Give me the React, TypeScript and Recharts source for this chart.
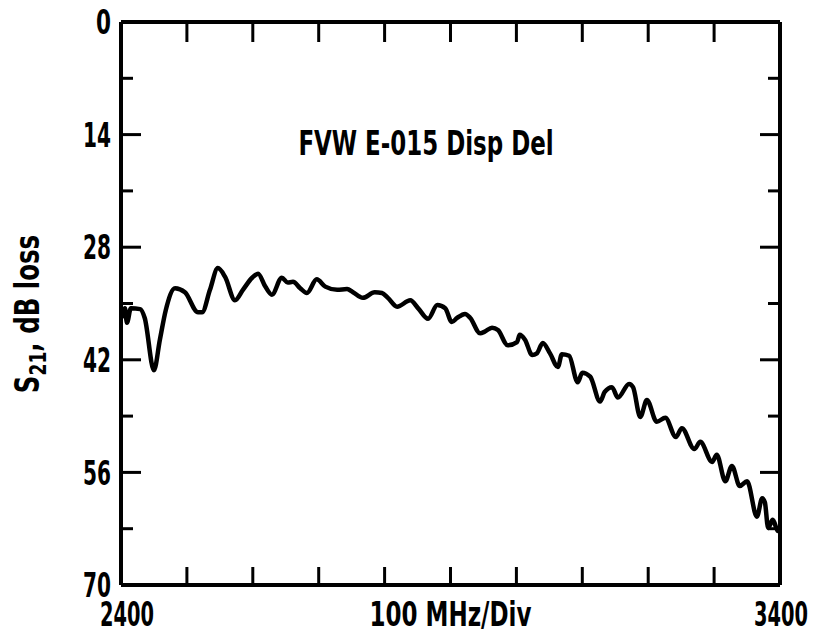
import React from 'react';
import { LineChart, Line, XAxis, YAxis } from 'recharts';

// frequency (MHz) and S21 loss (dB)
const freqs = [
  2401, 2406, 2409, 2415, 2429, 2436, 2450, 2459, 2468, 2482, 2497, 2517, 2523,
  2535, 2547, 2558, 2573, 2585, 2599, 2608, 2619, 2629, 2644, 2653, 2661, 2672,
  2682, 2697, 2710, 2728, 2743, 2752, 2767, 2785, 2796, 2805, 2819, 2839, 2851,
  2866, 2880, 2892, 2902, 2910, 2922, 2930, 2945, 2952, 2963, 2972, 2987, 3001,
  3005, 3013, 3024, 3031, 3040, 3051, 3063, 3069, 3080, 3093, 3100, 3112, 3127,
  3134, 3145, 3154, 3171, 3177, 3188, 3198, 3213, 3226, 3242, 3251, 3270, 3279,
  3297, 3304, 3317, 3327, 3339, 3350, 3365, 3373, 3377, 3382, 3389, 3397, 3400,
];
const loss = [
  36.8, 35.6, 37.4, 35.6, 35.7, 36.8, 43.3, 39.5, 35.8, 33.1, 33.6, 36.1, 36.1,
  33.3, 30.6, 31.7, 34.6, 33.3, 31.8, 31.3, 32.9, 33.9, 31.8, 32.4, 32.3, 33.1,
  33.7, 32.0, 32.9, 33.3, 33.2, 33.6, 34.3, 33.6, 33.7, 34.3, 35.4, 34.6, 35.6,
  36.9, 35.2, 35.6, 37.3, 36.8, 36.3, 36.8, 38.7, 38.5, 38.0, 38.3, 40.2, 39.8,
  38.9, 39.5, 41.4, 41.2, 39.9, 41.2, 42.9, 41.3, 41.5, 44.8, 43.6, 44.1, 47.2,
  46.0, 45.4, 46.7, 45.0, 45.4, 49.1, 47.0, 49.7, 49.2, 51.6, 50.5, 53.1, 52.2,
  54.7, 53.8, 57.1, 55.2, 57.7, 57.1, 61.5, 59.2, 59.7, 62.9, 61.9, 63.3, 63.0,
];

const yTicks = [0, 7, 14, 21, 28, 35, 42, 49, 56, 63, 70];
const xTicks = [2400, 2500, 2600, 2700, 2800, 2900, 3000, 3100, 3200, 3300, 3400];
const xLabels: Record<number, string> = { 2400: '2400', 3400: '3400', 2900: '100 MHz/Div' };

const data = freqs.map((f, i) => ({ f, loss: loss[i] }));

const FONT = "'Liberation Sans Narrow', 'DejaVu Sans Condensed', 'Arial Narrow', sans-serif";

// the original lettering is a tall condensed face, so squeeze the text to its width
const squeeze = (s: string) => (s.length === 1 ? 15 : s.length === 2 ? 28 : s.length === 4 ? 54 : 162);

const LeftTick = (props: any) => {
  const { x, y, payload } = props;
  const major = payload.value % 14 === 0;
  const s = String(payload.value);
  return (
    <g>
      <line x1={x} y1={y} x2={x + (major ? 20 : 12)} y2={y} stroke="#000" strokeWidth={3} />
      {major && (
        <text x={x - 10} y={y} dy="0.36em" textAnchor="end" fontFamily={FONT}
          fontWeight="bold" fontSize={34} fill="#000"
          textLength={squeeze(s)} lengthAdjust="spacingAndGlyphs">
          {s}
        </text>
      )}
    </g>
  );
};

const RightTick = (props: any) => {
  const { x, y, payload } = props;
  const major = payload.value % 14 === 0;
  return <line x1={x} y1={y} x2={x - (major ? 20 : 12)} y2={y} stroke="#000" strokeWidth={3} />;
};

const TopTick = (props: any) => {
  const { x, y } = props;
  return <line x1={x} y1={y} x2={x} y2={y + 20} stroke="#000" strokeWidth={3} />;
};

const BottomTick = (props: any) => {
  const { x, y, payload } = props;
  const label = xLabels[payload.value];
  const dx = payload.value === 2400 ? 6 : payload.value === 3400 ? 1 : 0;
  return (
    <g>
      <line x1={x} y1={y} x2={x} y2={y - 18} stroke="#000" strokeWidth={3} />
      {label && (
        <text x={x + dx} y={y + 41} textAnchor="middle"
          fontFamily={FONT} fontWeight="bold" fontSize={34} fill="#000"
          textLength={squeeze(label)} lengthAdjust="spacingAndGlyphs">
          {label}
        </text>
      )}
    </g>
  );
};

export default function App() {
  return (
    <div style={{ position: 'absolute', left: 0, top: 0, width: 815, height: 634, background: '#fff' }}>
      <LineChart width={815} height={634} data={data}
        margin={{ top: 0, right: 0, bottom: 0, left: 0 }}>
        <XAxis xAxisId="b" dataKey="f" type="number" domain={[2400, 3400]} ticks={xTicks}
          height={49} tickSize={0} tickMargin={0} tickLine={false}
          axisLine={{ stroke: '#000', strokeWidth: 4 }} tick={<BottomTick />} interval={0} />
        <XAxis xAxisId="t" orientation="top" dataKey="f" type="number" domain={[2400, 3400]}
          ticks={xTicks} height={22} tickSize={0} tickMargin={0} tickLine={false}
          axisLine={{ stroke: '#000', strokeWidth: 4 }} tick={<TopTick />} interval={0} />
        <YAxis yAxisId="l" type="number" domain={[0, 70]} reversed ticks={yTicks} width={121}
          tickSize={0} tickMargin={0} tickLine={false}
          axisLine={{ stroke: '#000', strokeWidth: 4 }} tick={<LeftTick />} interval={0} />
        <YAxis yAxisId="r" orientation="right" type="number" domain={[0, 70]} reversed
          ticks={yTicks} width={35} tickSize={0} tickMargin={0} tickLine={false}
          axisLine={{ stroke: '#000', strokeWidth: 4 }} tick={<RightTick />} interval={0} />
        <Line xAxisId="b" yAxisId="l" dataKey="loss" type="monotone" stroke="#000"
          strokeWidth={4.5} dot={false} isAnimationActive={false} />
        <Line xAxisId="t" yAxisId="r" dataKey="loss" type="monotone" stroke="none"
          dot={false} isAnimationActive={false} />
      </LineChart>
      <div style={{ position: 'absolute', left: 426, top: 143,
        transform: 'translate(-50%, -50%) scaleX(0.75)',
        fontFamily: FONT, fontWeight: 'bold', fontSize: 34, whiteSpace: 'nowrap', lineHeight: 1 }}>
        FVW E-015 Disp Del
      </div>
      <div style={{ position: 'absolute', left: 30, top: 314,
        transform: 'translate(-50%, -50%) rotate(-90deg) scaleX(0.8)',
        fontFamily: FONT, fontWeight: 'bold', fontSize: 34, whiteSpace: 'nowrap', lineHeight: 1 }}>
        S<sub style={{ fontSize: '0.7em', verticalAlign: '-0.3em' }}>21</sub>, dB loss
      </div>
    </div>
  );
}
